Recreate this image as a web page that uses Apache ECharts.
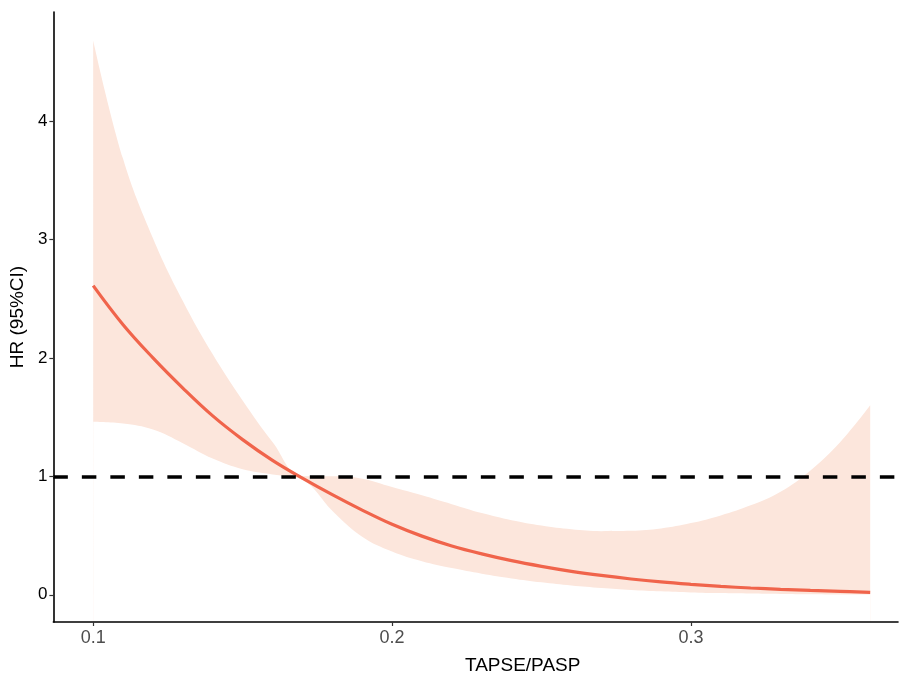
<!DOCTYPE html>
<html>
<head>
<meta charset="utf-8">
<script src="https://cdn.jsdelivr.net/npm/echarts@6/dist/echarts.min.js"></script>
<style>html,body{margin:0;padding:0;background:#fff}#c{width:899px;height:680px}</style>
</head>
<body>
<div id="c"></div>
<script>
var xValues = [0.10,0.11,0.12,0.13,0.14,0.15,0.16,0.17,0.18,0.19,0.20,0.21,0.22,0.23,0.24,0.25,0.26,0.27,0.28,0.29,0.30,0.31,0.32,0.33,0.34,0.35,0.36];
var hrValues = [2.61,2.28,2.00,1.745,1.51,1.31,1.135,0.985,0.845,0.715,0.595,0.495,0.412,0.345,0.288,0.24,0.198,0.163,0.133,0.108,0.088,0.071,0.057,0.046,0.037,0.029,0.020];
var ciUpper = [4.68,3.68,3.01,2.48,2.03,1.64,1.29,1.00,1.00,0.98,0.91,0.84,0.765,0.69,0.63,0.585,0.553,0.537,0.54,0.56,0.605,0.67,0.755,0.87,1.05,1.29,1.60];
var ciLower = [1.46,1.445,1.395,1.28,1.15,1.06,1.015,0.97,0.71,0.49,0.365,0.283,0.225,0.178,0.138,0.105,0.078,0.057,0.041,0.029,0.02,0.014,0.01,0.007,0.005,0.003,0.002];
var xTicks = [0.1,0.2,0.3];
var yTicks = [0,1,2,3,4];
var refHR = 1;

var chart = echarts.init(document.getElementById('c'));
function pairs(arr){ return xValues.map(function(x,i){ return [x, arr[i]]; }); }

chart.setOption({
  animation: false,
  grid: { left: 50, top: 12, right: 1, bottom: 41 },
  xAxis: {
    type: 'value', min: 0.08667, max: 0.3693, z: 10,
    name: 'TAPSE/PASP', nameLocation: 'middle', nameGap: 34,
    nameTextStyle: { color: '#000', fontSize: 19, fontFamily: 'Liberation Sans', padding: [0,0,0,94] },
    axisLine: { show: true, onZero: false, lineStyle: { color: '#000', width: 1.6 } },
    axisTick: { show: true, length: 4, customValues: xTicks, lineStyle: { color: '#333', width: 1.2 } },
    axisLabel: { customValues: xTicks, color: '#4d4d4d', fontSize: 18, fontFamily: 'Liberation Sans', margin: 7,
      formatter: function(v){ return v.toFixed(1); } },
    splitLine: { show: false }
  },
  yAxis: {
    type: 'value', min: -0.23, max: 4.92, z: 10,
    name: 'HR (95%CI)', nameLocation: 'middle', nameGap: 15,
    nameTextStyle: { color: '#000', fontSize: 19, fontFamily: 'Liberation Sans' },
    axisLine: { show: true, onZero: false, lineStyle: { color: '#000', width: 1.6 } },
    axisTick: { show: true, length: 4, customValues: yTicks, lineStyle: { color: '#333', width: 1.2 } },
    axisLabel: { customValues: yTicks, color: '#000', fontSize: 17, fontFamily: 'Liberation Sans', margin: 6 },
    splitLine: { show: false }
  },
  series: [
    { type: 'line', data: pairs(ciUpper), smooth: 0.4, symbol: 'none', silent: true, z: 1,
      lineStyle: { width: 0, opacity: 0 }, areaStyle: { color: '#FCE6DC', opacity: 1, origin: 'start' } },
    { type: 'line', data: pairs(ciLower), smooth: 0.4, symbol: 'none', silent: true, z: 1,
      lineStyle: { width: 0, opacity: 0 }, areaStyle: { color: '#FFFFFF', opacity: 1, origin: 'start' } },
    { type: 'line', data: pairs(hrValues), smooth: 0.4, symbol: 'none',
      lineStyle: { color: '#F0644B', width: 3.2 }, z: 3,
      markLine: { silent: true, symbol: ['none','none'], label: { show: false },
        lineStyle: { color: '#000', width: 3.5, type: [14.5,14] },
        data: [{ yAxis: refHR }] } }
  ]
});
</script>
</body>
</html>
